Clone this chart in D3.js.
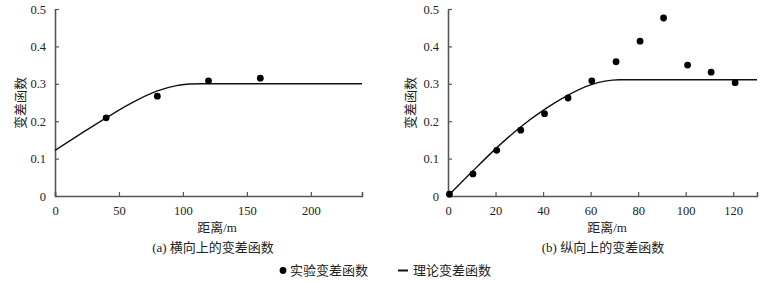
<!DOCTYPE html>
<html>
<head>
<meta charset="utf-8">
<script src="https://cdn.jsdelivr.net/npm/d3@7"></script>
<style>
  body { margin: 0; background: #fff; }
  text { font-family: "Liberation Serif", "Noto Sans CJK SC", serif; fill: #222; }
</style>
</head>
<body>
<div id="chart"></div>
<script>
// (a) transverse
var aDistance = [40, 80, 120, 160.5];
var aGamma = [0.209, 0.267, 0.308, 0.315];
var aCurveX = [0, 20, 40, 60, 80, 95, 105, 115, 240];
var aCurveY = [0.122, 0.166, 0.209, 0.249, 0.281, 0.295, 0.2995, 0.300, 0.300];

// (b) longitudinal
var bDistance = [0.6, 10.5, 20.5, 30.6, 40.6, 50.5, 60.5, 70.7, 80.8, 90.7, 100.8, 110.7, 120.8];
var bGamma = [0.005, 0.059, 0.122, 0.176, 0.220, 0.262, 0.308, 0.359, 0.414, 0.476, 0.350, 0.331, 0.303];
var bCurveX = [0, 10, 20, 30, 40, 50, 60, 66, 72, 130];
var bCurveY = [0, 0.064, 0.126, 0.182, 0.229, 0.268, 0.297, 0.307, 0.311, 0.311];

var yTicks = [0, 0.1, 0.2, 0.3, 0.4, 0.5];
var aXTicks = [0, 50, 100, 150, 200];
var bXTicks = [0, 20, 40, 60, 80, 100, 120];

var svgWidth = 777;
var svgHeight = 282;

var svg = d3.select("#chart")
  .append("svg")
  .attr("width", svgWidth)
  .attr("height", svgHeight);

var axisColor = "#555";

function drawPanel(opt) {
  var x = d3.scaleLinear().domain(opt.xDomain).range([opt.left, opt.right]);
  var y = d3.scaleLinear().domain([0, 0.5]).range([196, 9]);

  var g = svg.append("g");

  // x axis, ticks pointing inward
  var xAxis = g.append("g")
    .attr("transform", "translate(0,196)")
    .call(d3.axisBottom(x).tickValues(opt.xTicks).tickSizeInner(-4).tickSizeOuter(-4)
      .tickPadding(10).tickFormat(d3.format("d")));
  xAxis.select(".domain").attr("stroke", axisColor).attr("stroke-width", 1.6);
  xAxis.selectAll(".tick line").attr("stroke", axisColor).attr("stroke-width", 1.2);
  xAxis.selectAll(".tick text").attr("font-size", "12.5px").attr("fill", "#222");

  // y axis, ticks pointing inward
  var yAxis = g.append("g")
    .attr("transform", "translate(" + opt.left + ",0)")
    .call(d3.axisLeft(y).tickValues(yTicks).tickSizeInner(-4).tickSizeOuter(0)
      .tickPadding(9).tickFormat(function(d) { return d === 0 ? "0" : d3.format(".1f")(d); }));
  yAxis.select(".domain").attr("stroke", axisColor).attr("stroke-width", 1.6);
  yAxis.selectAll(".tick line").attr("stroke", axisColor).attr("stroke-width", 1.2);
  yAxis.selectAll(".tick text").attr("font-size", "12.5px").attr("fill", "#222");

  // theoretical curve
  var curve = opt.curveX.map(function(d, i) { return [d, opt.curveY[i]]; });
  g.append("path")
    .datum(curve)
    .attr("fill", "none")
    .attr("stroke", "#111")
    .attr("stroke-width", 1.4)
    .attr("d", d3.line()
      .x(function(d) { return x(d[0]); })
      .y(function(d) { return y(d[1]); })
      .curve(d3.curveMonotoneX));

  // experimental points
  g.selectAll("circle.pt")
    .data(opt.px)
    .enter()
    .append("circle")
    .attr("class", "pt")
    .attr("cx", function(d) { return x(d); })
    .attr("cy", function(d, i) { return y(opt.py[i]); })
    .attr("r", 3.4)
    .attr("fill", "#000");

  // y label
  g.append("text")
    .attr("transform", "translate(" + opt.yLabelX + ",103) rotate(-90)")
    .attr("text-anchor", "middle")
    .attr("dy", "0.35em")
    .attr("font-size", "13px")
    .text("变差函数");

  // x label
  g.append("text")
    .attr("x", opt.labelCx)
    .attr("y", 232)
    .attr("text-anchor", "middle")
    .attr("font-size", "13px")
    .text("距离/m");

  // caption
  g.append("text")
    .attr("x", opt.captionCx)
    .attr("y", 252)
    .attr("text-anchor", "middle")
    .attr("font-size", "13px")
    .text(opt.caption);
}

drawPanel({
  xDomain: [0, 240], left: 55, right: 362,
  xTicks: aXTicks, px: aDistance, py: aGamma,
  curveX: aCurveX, curveY: aCurveY,
  yLabelX: 20, labelCx: 217, captionCx: 213,
  caption: "(a) 横向上的变差函数"
});

drawPanel({
  xDomain: [0, 130], left: 448, right: 757,
  xTicks: bXTicks, px: bDistance, py: bGamma,
  curveX: bCurveX, curveY: bCurveY,
  yLabelX: 410, labelCx: 607, captionCx: 603,
  caption: "(b) 纵向上的变差函数"
});

// legend
var legend = svg.append("g");
legend.append("circle").attr("cx", 283).attr("cy", 270.5).attr("r", 3.4).attr("fill", "#000");
legend.append("text").attr("x", 290).attr("y", 275).attr("font-size", "13px").text("实验变差函数");
legend.append("line").attr("x1", 398).attr("x2", 408).attr("y1", 270.5).attr("y2", 270.5)
  .attr("stroke", "#111").attr("stroke-width", 2);
legend.append("text").attr("x", 413).attr("y", 275).attr("font-size", "13px").text("理论变差函数");
</script>
</body>
</html>
